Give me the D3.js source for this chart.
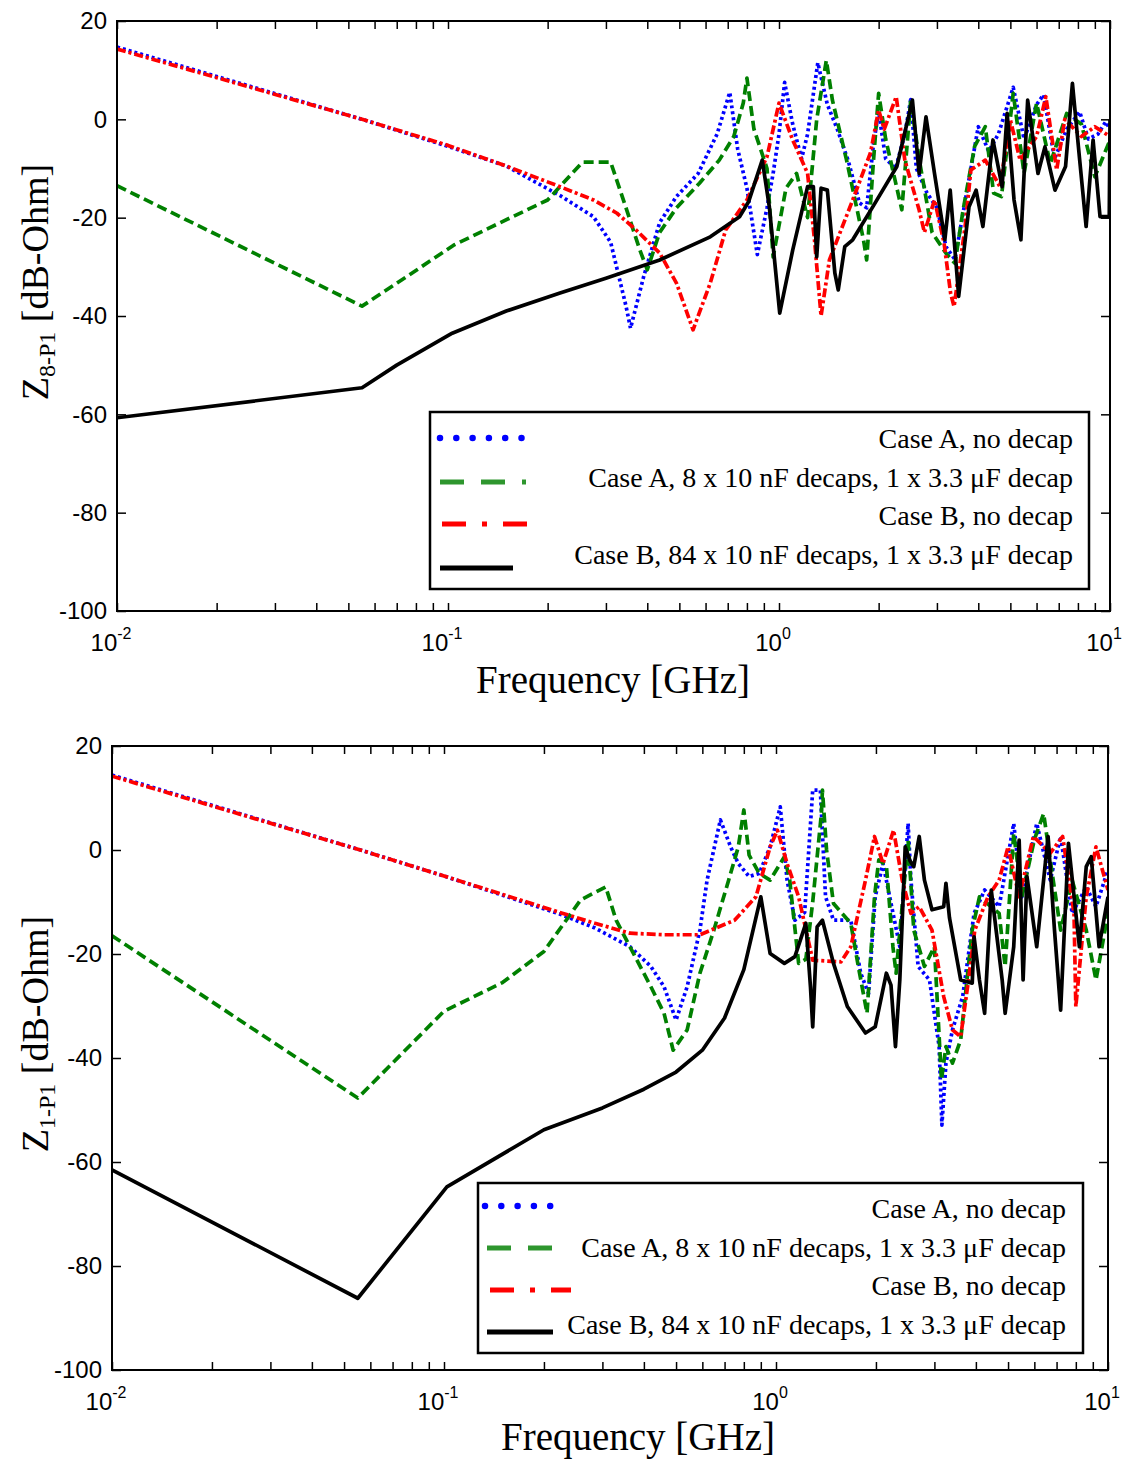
<!DOCTYPE html>
<html>
<head>
<meta charset="utf-8">
<script src="https://cdn.jsdelivr.net/npm/d3@7"></script>
<style>
  body { margin: 0; background: #fff; }
</style>
</head>
<body>
<script>
// ---- data: [frequency GHz, impedance dB-Ohm] ----
var seriesNames = ["Case A, no decap",
                   "Case A, 8 x 10 nF decaps, 1 x 3.3 \u03bcF decap",
                   "Case B, no decap",
                   "Case B, 84 x 10 nF decaps, 1 x 3.3 \u03bcF decap"];
var dbTicks = [-100, -80, -60, -40, -20, 0, 20];
var decadeTicks = [0.01, 0.1, 1, 10];
var decadeExp = ["-2", "-1", "0", "1"];
var minorMult = [2, 3, 4, 5, 6, 7, 8, 9];

// Z8-P1 (top)
var topBlue = [[0.01,14.7],[0.055,0],[0.1,-5.5],[0.15,-9.5],[0.218,-15.5],[0.275,-19.8],[0.31,-25],[0.345,-38],[0.356,-42.5],
  [0.39,-32],[0.436,-21],[0.49,-15.7],[0.57,-11],[0.65,-3],[0.71,5.5],[0.75,-6],[0.8,-14],[0.86,-27.5],[0.92,-18],[0.96,-11],
  [1.0,-3],[1.04,7.5],[1.1,-1],[1.17,-8],[1.22,-3],[1.31,11.5],[1.4,3],[1.5,-2],[1.62,-8.5],[1.75,-17],[1.84,-18],[1.93,-5],
  [2.0,1.5],[2.1,-8],[2.25,-10],[2.4,-3],[2.5,4],[2.6,-10],[2.8,-15],[3.0,-18],[3.2,-26],[3.4,-28.5],[3.6,-19],[3.8,-10],
  [4.0,-1.5],[4.3,-6.5],[4.6,-3],[5.1,6.5],[5.5,-4],[6.0,3],[6.3,5],[6.8,-8],[7.4,-2],[8.1,1.5],[8.6,-4],[9.2,-3],[9.7,-0.5],[10,-2]];
var topGreen = [[0.01,-13.5],[0.055,-38],[0.075,-32],[0.104,-25.6],[0.144,-21],[0.2,-16.4],[0.255,-8.7],[0.31,-8.7],[0.345,-18],
  [0.38,-26.6],[0.4,-30.6],[0.436,-23],[0.49,-18],[0.575,-13],[0.66,-8.3],[0.73,-3.5],[0.78,3.3],[0.8,8.4],[0.84,-2],[0.92,-10],
  [0.96,-28],[1.05,-14],[1.13,-11],[1.22,-20],[1.3,0],[1.39,12],[1.45,3.9],[1.6,-8.3],[1.8,-24.5],[1.84,-28.6],[1.93,-8.3],
  [2.0,5.3],[2.1,-4],[2.35,-18.4],[2.5,3.9],[2.65,-8],[2.9,-23],[3.2,-27.3],[3.4,-29.3],[3.6,-18.4],[3.9,-5.5],[4.2,-1.5],
  [4.45,-15],[4.7,-15.7],[5.1,5.3],[5.5,-11],[6.0,3.3],[6.6,-9],[7.4,1.2],[8.2,-1],[9.0,-11.7],[10,-4.2]];
var topRed = [[0.01,14.3],[0.055,0],[0.1,-5.3],[0.15,-9.5],[0.218,-13.7],[0.275,-16.4],[0.324,-19.1],[0.37,-22.5],[0.436,-27.2],
  [0.49,-33.3],[0.55,-42.8],[0.62,-33.3],[0.69,-22.5],[0.8,-16.4],[0.92,-7.6],[1.0,3.3],[1.1,-4.2],[1.22,-11],[1.28,-24.5],
  [1.34,-40],[1.42,-28.6],[1.67,-16.4],[1.89,-6.8],[2.0,1.9],[2.08,-2],[2.26,4.6],[2.4,-8.3],[2.65,-18.4],[2.75,-23],[2.95,-16.4],
  [3.15,-25],[3.3,-35.4],[3.38,-38.1],[3.65,-21.8],[3.8,-10.3],[4.2,-8.3],[4.65,-13.7],[5.0,-0.1],[5.35,-8.3],[6.0,-3.5],
  [6.4,4.6],[6.9,-10.3],[7.3,0],[8.2,-3.5],[9.0,-1.5],[10,-3.5]];
var topBlack = [[0.01,-60.7],[0.055,-54.6],[0.07,-50],[0.103,-43.5],[0.15,-39],[0.218,-35.3],[0.3,-32.3],[0.436,-28.6],[0.62,-23.9],
  [0.76,-19.8],[0.81,-16.7],[0.89,-8.3],[0.935,-17.8],[1.005,-39.4],[1.1,-26.6],[1.22,-13.7],[1.27,-13.7],[1.3,-28],[1.34,-14],
  [1.4,-14.4],[1.475,-31.3],[1.51,-34.7],[1.58,-25.9],[1.67,-24.5],[1.92,-17.8],[2.27,-9.6],[2.53,3.9],[2.65,-11],[2.78,0.5],
  [2.95,-11],[3.17,-24.5],[3.29,-14.4],[3.49,-36],[3.75,-17.8],[3.94,-14.4],[4.13,-21.8],[4.43,-4.2],[4.72,-13.7],[4.89,1.2],
  [5.13,-16.4],[5.38,-24.5],[5.64,3.9],[6.06,-11],[6.36,-5.6],[6.82,-14.4],[7.34,-9.6],[7.7,7.3],[8.08,-7.6],[8.47,-21.8],
  [8.89,-4.2],[9.33,-19.8],[9.95,-19.8],[10,-0.1]];

// Z1-P1 (bottom)
var botBlue = [[0.01,14.4],[0.056,0],[0.1,-5],[0.223,-12.3],[0.285,-15],[0.363,-18.6],[0.42,-22.4],[0.46,-26.3],[0.5,-32.7],
  [0.54,-26.3],[0.59,-15.4],[0.62,-5.8],[0.68,5.8],[0.73,0.6],[0.77,-2.6],[0.83,-5.1],[0.89,-4.5],[0.96,0.6],[1.03,8.3],
  [1.08,-5.8],[1.14,-13.5],[1.22,-12],[1.29,11.5],[1.36,11.5],[1.41,-9],[1.49,-13.5],[1.68,-13.5],[1.8,-23.7],[1.9,-27.6],
  [1.99,-9],[2.1,-2.6],[2.2,-9],[2.36,-18.6],[2.5,5.1],[2.55,-5.8],[2.68,-22.4],[2.9,-25],[3.1,-37.8],[3.16,-52.9],[3.25,-41],
  [3.4,-34.6],[3.65,-28.2],[3.95,-12.2],[4.25,-7.7],[4.7,-10.9],[5.2,5.1],[5.5,-9],[6.1,5.1],[6.7,-5.8],[7.2,2.6],[7.8,-12.2],
  [8.6,-7.1],[9.2,-10.9],[10,-3.8]];
var botGreen = [[0.01,-16.5],[0.055,-47.7],[0.1,-31],[0.15,-25.5],[0.2,-19.5],[0.258,-9.6],[0.307,-7.1],[0.33,-13.5],[0.363,-18.6],
  [0.42,-26.3],[0.46,-31.4],[0.49,-38.5],[0.54,-34.6],[0.59,-23.7],[0.65,-15.4],[0.72,-5.8],[0.77,0.6],[0.8,7.7],[0.83,-1],
  [0.89,-4.5],[0.96,-5.8],[1.06,-1.3],[1.1,-5.8],[1.17,-21.8],[1.23,-21],[1.29,-10],[1.37,7],[1.38,11.5],[1.42,0],[1.49,-10.3],
  [1.68,-14.1],[1.77,-22.4],[1.88,-31.4],[1.98,-9],[2.04,-1.9],[2.15,-3],[2.25,-18.6],[2.3,-23.7],[2.5,1.9],[2.6,-15.4],
  [2.8,-22.4],[3.0,-18.6],[3.15,-44.2],[3.25,-37.8],[3.4,-41],[3.6,-36.5],[3.9,-15.4],[4.1,-9],[4.7,-12.2],[4.9,-22.4],
  [5.2,3.2],[5.5,-9],[6.0,2],[6.4,7],[6.7,-2],[7.2,-15.4],[7.8,-5.8],[8.6,-15.4],[9.2,-25],[10,-12.2]];
var botRed = [[0.01,14.2],[0.056,0],[0.1,-5],[0.223,-12],[0.285,-14.1],[0.363,-16],[0.46,-16.3],[0.59,-16.3],[0.75,-13.5],
  [0.87,-9],[0.96,0.6],[1.01,3.8],[1.08,-2.6],[1.17,-9],[1.29,-21.2],[1.57,-21.5],[1.68,-18.6],[1.86,-5.8],[1.98,2.6],[2.1,-2.6],
  [2.26,3.8],[2.4,-5.8],[2.55,-12.2],[2.7,-10.9],[2.95,-15.4],[3.2,-28.2],[3.4,-34.6],[3.6,-35.9],[3.8,-25],[3.97,-15.4],
  [4.35,-9],[4.7,-5.8],[5.0,0.6],[5.4,-9],[5.96,2.6],[6.7,-0.6],[7.3,2.6],[7.9,-12.2],[8.0,-30.1],[8.6,-9],[9.2,0.6],[10,-7.7]];
var botBlack = [[0.01,-61.5],[0.055,-86.2],[0.102,-64.8],[0.2,-53.8],[0.3,-49.6],[0.4,-46],[0.5,-42.7],[0.6,-38.5],[0.7,-32.3],
  [0.8,-23],[0.9,-9],[0.96,-19.9],[1.06,-21.8],[1.14,-20.5],[1.23,-14.1],[1.27,-26.3],[1.29,-34],[1.33,-14.8],[1.38,-13.5],
  [1.49,-21.8],[1.64,-30.1],[1.86,-35.2],[1.99,-34],[2.15,-23.7],[2.22,-26],[2.29,-37.8],[2.36,-25],[2.45,0.6],[2.53,-2],
  [2.6,-3.2],[2.7,2.6],[2.8,-5.8],[2.95,-11.5],[3.2,-10.9],[3.25,-6.4],[3.33,-13],[3.6,-25],[3.9,-25.6],[3.95,-16.7],[4.1,-25],
  [4.25,-31.4],[4.45,-7.7],[4.8,-25],[4.9,-31.4],[5.2,-18.6],[5.4,1.9],[5.55,-25],[5.7,-5.1],[6.1,-18.6],[6.6,2.6],[6.9,-15.4],
  [7.2,-30.8],[7.6,1.3],[8.2,-18.6],[8.6,-3.2],[8.9,-1.3],[9.4,-18.6],[10,-9]];

// ---- styles ----
var plotStyles = [
  { color: "#0000ff", dash: "3,3", width: 3.7 },
  { color: "#008000", dash: "10,5", width: 3.7 },
  { color: "#ff0000", dash: "9,3,3,3", width: 3.7 },
  { color: "#000000", dash: null, width: 3.7 }
];
var legendStyles = [
  { color: "#0000ff", dash: "0,16.3", width: 6.5, cap: "round" },
  { color: "#2e962e", dash: "24,17", width: 5, cap: "butt" },
  { color: "#ff0000", dash: "24,16,5,16", width: 5, cap: "butt" },
  { color: "#000000", dash: null, width: 5, cap: "butt" }
];

var panels = [
  { id: "top", left: 117, right: 1110, top: 21, bottom: 611, sub: "8-P1",
    data: [topBlue, topGreen, topRed, topBlack],
    legend: { x0: 430, y0: 412, x1: 1089, y1: 589, textX: 1073,
              textY: [448, 487, 525, 564], lineY: [438, 482, 524, 568],
              lineX: [[440, 526], [440, 526], [442, 531], [440, 513]] },
    titleX: 613, titleY: 693, yTitleX: 48, yTitleY: 282 },
  { id: "bot", left: 112, right: 1108, top: 746, bottom: 1370, sub: "1-P1",
    data: [botBlue, botGreen, botRed, botBlack],
    legend: { x0: 478, y0: 1183, x1: 1083, y1: 1353, textX: 1066,
              textY: [1218, 1257, 1295, 1334], lineY: [1206, 1248, 1290, 1332],
              lineX: [[485, 555], [487, 553], [490, 571], [487, 553]] },
    titleX: 638, titleY: 1450, yTitleX: 48, yTitleY: 1034 }
];

var allFreqTicks = [];
decadeTicks.slice(0, 3).forEach(function(d) {
  allFreqTicks.push(d);
  minorMult.forEach(function(m) { allFreqTicks.push(d * m); });
});
allFreqTicks.push(10);

var svg = d3.select("body").append("svg")
    .attr("width", 1132)
    .attr("height", 1461)
    .style("background", "#fff");

panels.forEach(drawPanel);

function drawPanel(p) {
  var x = d3.scaleLog().domain([0.01, 10]).range([p.left, p.right]);
  var y = d3.scaleLinear().domain([-100, 20]).range([p.bottom, p.top]);
  var g = svg.append("g");

  g.append("clipPath").attr("id", "clip-" + p.id)
    .append("rect")
    .attr("x", p.left).attr("y", p.top)
    .attr("width", p.right - p.left).attr("height", p.bottom - p.top);

  // curves
  var line = d3.line()
      .x(function(d) { return x(d[0]); })
      .y(function(d) { return y(d[1]); });

  var curves = g.append("g").attr("clip-path", "url(#clip-" + p.id + ")");
  p.data.forEach(function(s, i) {
    curves.append("path")
      .datum(s)
      .attr("d", line)
      .attr("fill", "none")
      .attr("stroke", plotStyles[i].color)
      .attr("stroke-width", plotStyles[i].width)
      .attr("stroke-dasharray", plotStyles[i].dash)
      .attr("stroke-linejoin", "round");
  });

  // inward ticks on all four sides
  var axes = [
    [d3.axisBottom(x), "translate(0," + p.bottom + ")"],
    [d3.axisTop(x), "translate(0," + p.top + ")"]
  ];
  axes.forEach(function(a) {
    g.append("g").attr("transform", a[1])
      .call(a[0].tickValues(allFreqTicks).tickSizeInner(-8).tickSizeOuter(0).tickFormat(""))
      .call(styleAxis);
  });

  g.append("g").attr("transform", "translate(" + p.left + ",0)")
    .call(d3.axisLeft(y).tickValues(dbTicks).tickSizeInner(-9).tickSizeOuter(0).tickPadding(10)
          .tickFormat(function(d) { return String(d); }))
    .call(styleAxis)
    .selectAll("text")
    .style("font-family", "'Liberation Sans', Arial, sans-serif")
    .style("font-size", "24px")
    .attr("fill", "#000");

  g.append("g").attr("transform", "translate(" + p.right + ",0)")
    .call(d3.axisRight(y).tickValues(dbTicks).tickSizeInner(-9).tickSizeOuter(0).tickFormat(""))
    .call(styleAxis);

  // frame
  g.append("rect")
    .attr("x", p.left).attr("y", p.top)
    .attr("width", p.right - p.left).attr("height", p.bottom - p.top)
    .attr("fill", "none")
    .attr("stroke", "#000")
    .attr("stroke-width", 2);

  // decade labels 10^n
  decadeTicks.forEach(function(v, i) {
    var t = g.append("text")
      .attr("x", x(v) - 6)
      .attr("y", p.bottom + 40)
      .attr("text-anchor", "middle")
      .style("font-family", "'Liberation Sans', Arial, sans-serif")
      .style("font-size", "24px");
    t.append("tspan").text("10");
    t.append("tspan").attr("dy", -12).style("font-size", "16px").text(decadeExp[i]);
  });

  // axis titles
  g.append("text")
    .attr("x", p.titleX)
    .attr("y", p.titleY)
    .attr("text-anchor", "middle")
    .style("font-family", "'Liberation Serif', 'Times New Roman', serif")
    .style("font-size", "39px")
    .text("Frequency [GHz]");

  var yt = g.append("text")
    .attr("transform", "translate(" + p.yTitleX + "," + p.yTitleY + ") rotate(-90)")
    .attr("text-anchor", "middle")
    .style("font-family", "'Liberation Serif', 'Times New Roman', serif")
    .style("font-size", "38px");
  yt.append("tspan").text("Z");
  yt.append("tspan").attr("dy", 7).style("font-size", "24px").text(p.sub);
  yt.append("tspan").attr("dy", -7).text(" [dB-Ohm]");

  // legend
  var L = p.legend;
  var lg = g.append("g");
  lg.append("rect")
    .attr("x", L.x0).attr("y", L.y0)
    .attr("width", L.x1 - L.x0).attr("height", L.y1 - L.y0)
    .attr("fill", "#fff")
    .attr("stroke", "#000")
    .attr("stroke-width", 2.5);

  seriesNames.forEach(function(name, i) {
    lg.append("line")
      .attr("x1", L.lineX[i][0]).attr("x2", L.lineX[i][1])
      .attr("y1", L.lineY[i]).attr("y2", L.lineY[i])
      .attr("stroke", legendStyles[i].color)
      .attr("stroke-width", legendStyles[i].width)
      .attr("stroke-dasharray", legendStyles[i].dash)
      .attr("stroke-linecap", legendStyles[i].cap);
    lg.append("text")
      .attr("x", L.textX)
      .attr("y", L.textY[i])
      .attr("text-anchor", "end")
      .style("font-family", "'Liberation Serif', 'Times New Roman', serif")
      .style("font-size", "28px")
      .text(name);
  });
}

function styleAxis(sel) {
  sel.select(".domain").remove();
  sel.selectAll(".tick line").attr("stroke", "#000").attr("stroke-width", 1.5);
}
</script>
</body>
</html>
